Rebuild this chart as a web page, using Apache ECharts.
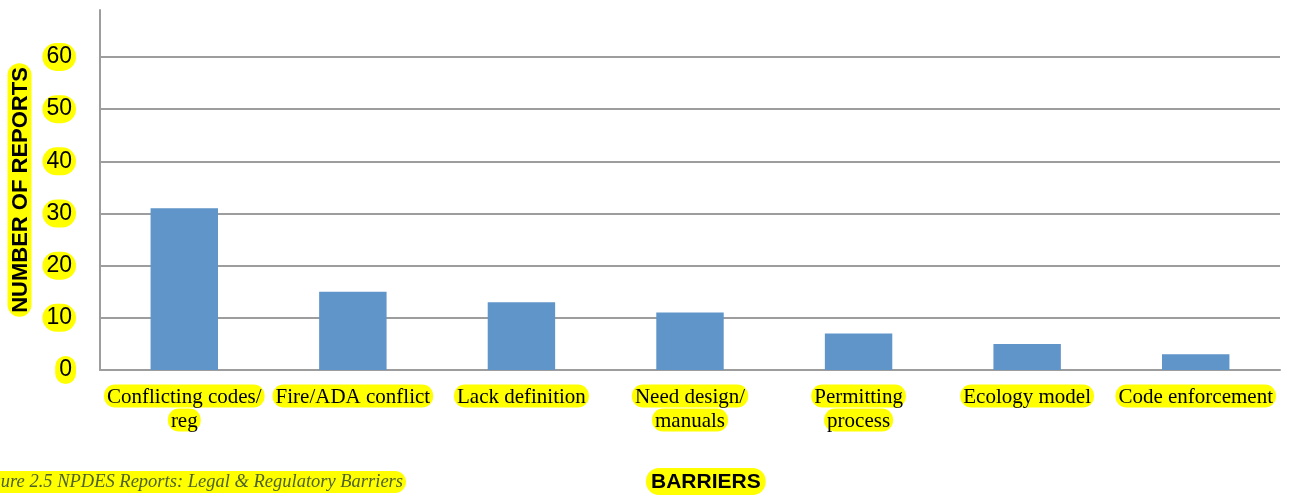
<!DOCTYPE html>
<html>
<head>
<meta charset="utf-8">
<script src="https://cdn.jsdelivr.net/npm/echarts@6/dist/echarts.min.js"></script>
<style>
  html, body { margin: 0; padding: 0; background: #ffffff; }
  #chart { width: 1294px; height: 502px; }
</style>
</head>
<body>
<div id="chart"></div>
<script>
// Barrier categories (line breaks as shown under the axis)
const categories = [
  'Conflicting codes/\nreg',
  'Fire/ADA conflict',
  'Lack definition',
  'Need design/\nmanuals',
  'Permitting\nprocess',
  'Ecology model',
  'Code enforcement'
];
// Number of reports per barrier
const reports = [31, 15, 13, 11, 7, 5, 3];
// Value axis range
const yMin = 0;
const yMax = 69;
const yStep = 10;
const yLabelMax = 60;

const HILITE = '#ffff00';
const GRID = '#9d9d9d';

const chart = echarts.init(document.getElementById('chart'));

const splitColors = [];
for (let v = yMin; v <= yLabelMax; v += yStep) splitColors.push(GRID);
splitColors.push('rgba(0,0,0,0)');

chart.setOption({
  animation: false,
  backgroundColor: '#ffffff',
  grid: { left: 100, right: 14, top: 10, bottom: 132, containLabel: false, outerBoundsMode: 'none' },
  xAxis: {
    type: 'category',
    data: categories,
    axisLine: { lineStyle: { color: GRID, width: 2 } },
    axisTick: { show: false },
    axisLabel: {
      interval: 0,
      margin: 14,
      lineHeight: 24,
      formatter: v => v.split('\n').map(l => '{h|' + l + '}').join('\n'),
      rich: {
        h: {
          fontFamily: 'Liberation Serif', fontSize: 21, color: '#000',
          backgroundColor: HILITE, borderRadius: 11, padding: [2, 3, 0, 3], lineHeight: 24
        }
      }
    }
  },
  yAxis: {
    type: 'value',
    min: yMin,
    max: yMax,
    interval: yStep,
    name: 'NUMBER OF REPORTS',
    nameLocation: 'middle',
    nameRotate: 90,
    nameGap: 64,
    nameTextStyle: {
      fontFamily: 'Liberation Sans', fontWeight: 'bold', fontSize: 22, color: '#000',
      backgroundColor: HILITE, borderRadius: 13, padding: [2, 4, 0, 4]
    },
    axisLine: { show: true, lineStyle: { color: GRID, width: 2 } },
    axisTick: { show: false },
    axisLabel: {
      margin: 24,
      showMaxLabel: false,
      fontFamily: 'Liberation Sans', fontSize: 23, color: '#000',
      backgroundColor: HILITE, borderRadius: 14, padding: [3, 4, 2, 4]
    },
    splitLine: { show: true, lineStyle: { color: splitColors, width: 2 } }
  },
  series: [{
    type: 'bar',
    data: reports,
    barWidth: '40%',
    itemStyle: { color: '#5f95c9' }
  }],
  graphic: [{
    // figure caption, partly running off the left edge
    type: 'text',
    right: 1294 - 406,
    top: 471,
    style: {
      text: 'Figure 2.5 NPDES Reports: Legal & Regulatory Barriers',
      font: 'italic 18.5px "Liberation Serif"',
      fill: '#4f6228',
      backgroundColor: HILITE,
      borderRadius: 11,
      padding: [2, 3, 1, 3]
    }
  }, {
    // category axis title
    type: 'text',
    left: 646,
    top: 468,
    style: {
      text: 'BARRIERS',
      font: 'bold 21px "Liberation Sans"',
      fill: '#000',
      backgroundColor: HILITE,
      borderRadius: 13,
      padding: [4, 5, 2, 5]
    }
  }]
});
</script>
</body>
</html>
